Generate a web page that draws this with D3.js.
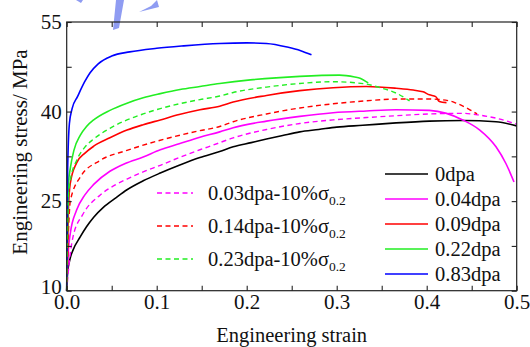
<!DOCTYPE html>
<html>
<head>
<meta charset="utf-8">
<script src="https://cdn.jsdelivr.net/npm/d3@7/dist/d3.min.js"></script>
<style>
  body { margin: 0; background: #fff; }
  text { font-family: "Liberation Serif", "Times New Roman", serif; fill: #111; }
</style>
</head>
<body>
<div id="chart"></div>
<script>
var width = 530;
var height = 347;

// strain / stress pairs
var s0dpa = [[0,10],[0.001,13],[0.004,15.5],[0.007,16.8],[0.015,19],[0.022,20.7],[0.03,22.3],[0.041,24],[0.055,25.6],[0.067,26.9],[0.085,28.4],[0.104,29.7],[0.125,31],[0.148,32.3],[0.17,33.3],[0.185,34.1],[0.205,34.8],[0.222,35.4],[0.24,36],[0.259,36.6],[0.28,37],[0.3,37.4],[0.329,37.7],[0.366,38.1],[0.403,38.4],[0.44,38.5],[0.477,38.3],[0.5,37.6]];
var s004dpa = [[0,10],[0.002,17],[0.004,19.6],[0.011,23.5],[0.02,26],[0.03,27.8],[0.048,30],[0.065,31.3],[0.085,32.4],[0.104,33.6],[0.125,34.6],[0.148,35.7],[0.17,36.6],[0.185,37.3],[0.222,38.4],[0.259,39.2],[0.296,39.8],[0.333,40.1],[0.366,40.3],[0.403,40.2],[0.422,39.7],[0.44,38.6],[0.459,36.9],[0.477,34.1],[0.488,31.3],[0.497,28.2]];
var s009dpa = [[0,10],[0.002,24],[0.004,28],[0.011,31.4],[0.02,33],[0.03,34.2],[0.048,35.6],[0.067,36.9],[0.085,37.8],[0.104,38.6],[0.125,39.5],[0.148,40.3],[0.17,40.9],[0.185,41.6],[0.222,42.7],[0.259,43.5],[0.296,44],[0.333,44.2],[0.366,43.9],[0.385,43.6],[0.396,43.3],[0.403,42.8],[0.41,42.5],[0.414,41.7],[0.422,41.5]];
var s022dpa = [[0,10],[0.002,28],[0.004,30.5],[0.008,33.5],[0.015,36],[0.022,37.5],[0.03,38.6],[0.048,40.2],[0.067,41.4],[0.085,42.3],[0.104,43],[0.126,43.7],[0.148,44.2],[0.17,44.7],[0.204,45.3],[0.259,45.9],[0.303,46.1],[0.32,45.8],[0.326,45.6],[0.335,44.8]];
var s083dpa = [[0,10],[0.001,30],[0.003,38],[0.006,40.5],[0.012,42.5],[0.02,45],[0.026,46.5],[0.035,48],[0.05,49.3],[0.07,50],[0.1,50.6],[0.13,51],[0.17,51.4],[0.2,51.5],[0.222,51.4],[0.245,50.8],[0.26,50.2],[0.272,49.5]];
var s003dpa10 = [[0,10],[0.003,15],[0.007,19],[0.018,22.8],[0.037,26],[0.055,27.8],[0.067,28.7],[0.085,29.9],[0.104,31],[0.125,32.3],[0.148,33.6],[0.163,34.4],[0.185,35.6],[0.222,37],[0.259,38],[0.296,38.6],[0.333,39],[0.366,39.3],[0.403,39.6],[0.44,39.7],[0.459,39.4],[0.477,38.9],[0.5,37.9]];
var s014dpa10 = [[0,10],[0.002,20],[0.004,25],[0.015,29],[0.037,31.8],[0.067,33.5],[0.104,35.2],[0.148,36.8],[0.17,37.5],[0.185,38.3],[0.222,39.6],[0.259,40.6],[0.296,41.3],[0.333,41.8],[0.366,42.1],[0.403,42.1],[0.425,41.8],[0.433,41.4],[0.448,40.3],[0.456,39.6]];
var s023dpa10 = [[0,10],[0.002,26],[0.004,28.5],[0.011,31.8],[0.02,34],[0.03,35.4],[0.048,37.2],[0.067,38.6],[0.085,39.6],[0.104,40.5],[0.125,41.3],[0.148,42],[0.17,42.6],[0.185,43.2],[0.222,44.1],[0.259,44.7],[0.296,45],[0.333,44.6],[0.348,44],[0.366,43.1],[0.381,41.8]];

var solidNames = ["0dpa", "0.04dpa", "0.09dpa", "0.22dpa", "0.83dpa"];
var solidData = [s0dpa, s004dpa, s009dpa, s022dpa, s083dpa];
var solidColors = ["#000000", "#ff00ff", "#ff0000", "#22ee22", "#0000ff"];

var dashNames = ["0.03dpa-10%\u03c3", "0.14dpa-10%\u03c3", "0.23dpa-10%\u03c3"];
var dashData = [s003dpa10, s014dpa10, s023dpa10];
var dashColors = ["#ff00ff", "#ff0000", "#22ee22"];

var xTicks = [0, 0.1, 0.2, 0.3, 0.4, 0.5];
var xMinor = [0.05, 0.15, 0.25, 0.35, 0.45];
var yTicks = [10, 25, 40, 55];
var yMinor = [17.5, 32.5, 47.5];

var plotLeft = 66.7, plotRight = 516.7, plotTop = 22, plotBottom = 290.7;

var svg = d3.select("#chart").append("svg")
        .attr("width", width)
        .attr("height", height);

svg.append("rect")
        .attr("width", width)
        .attr("height", height)
        .attr("fill", "#ffffff");

// faint blue smudge at the top of the scan
svg.append("path")
        .attr("d", "M113,30 L119,28 L124,0 L116,0 Z M139,12 L151,6 L157,0 L159,7 L147,10 Z M76,0 L83,0 L81,3 Z")
        .attr("fill", "#8f9cf2");

var x = d3.scaleLinear().domain([0, 0.5]).range([plotLeft, plotRight]);
var y = d3.scaleLinear().domain([10, 55]).range([plotBottom, plotTop]);

var line = d3.line()
        .x(function(d) { return x(d[0]); })
        .y(function(d) { return y(d[1]); })
        .curve(d3.curveMonotoneX);

var plot = svg.append("g");

for (var i = 0; i < solidData.length; i++) {
    plot.append("path")
            .attr("d", line(solidData[i]))
            .attr("fill", "none")
            .attr("stroke", solidColors[i])
            .attr("stroke-width", 1.6);
}
for (var i = 0; i < dashData.length; i++) {
    plot.append("path")
            .attr("d", line(dashData[i]))
            .attr("fill", "none")
            .attr("stroke", dashColors[i])
            .attr("stroke-width", 1.4)
            .attr("stroke-dasharray", "5,3.5");
}

// frame
svg.append("rect")
        .attr("x", plotLeft)
        .attr("y", plotTop)
        .attr("width", plotRight - plotLeft)
        .attr("height", plotBottom - plotTop)
        .attr("fill", "none")
        .attr("stroke", "#222")
        .attr("stroke-width", 1.2);

function inwardAxis(axis, g) {
    g.call(axis);
    g.select(".domain").remove();
    g.selectAll("line").attr("stroke", "#222").attr("stroke-width", 1.1);
}

var allX = xTicks.concat(xMinor);
var allY = yTicks.concat(yMinor);

var gx = svg.append("g").attr("transform", "translate(0," + plotBottom + ")");
inwardAxis(d3.axisBottom(x).tickValues(allX).tickSizeInner(-5).tickSizeOuter(0)
        .tickFormat(function(d) { return xTicks.indexOf(d) >= 0 ? d3.format(".1f")(d) : ""; }), gx);
gx.selectAll("text")
        .attr("y", 18)
        .attr("dy", 0)
        .style("font-size", "21px")
        .style("font-family", "Liberation Serif");

var gxTop = svg.append("g").attr("transform", "translate(0," + plotTop + ")");
inwardAxis(d3.axisTop(x).tickValues(allX).tickSizeInner(-5).tickSizeOuter(0).tickFormat(""), gxTop);

var gy = svg.append("g").attr("transform", "translate(" + plotLeft + ",0)");
inwardAxis(d3.axisLeft(y).tickValues(allY).tickSizeInner(-5).tickSizeOuter(0)
        .tickFormat(function(d) { return yTicks.indexOf(d) >= 0 ? d : ""; }), gy);
gy.selectAll("text")
        .attr("x", -5)
        .attr("y", function(d) { return d == 10 ? -4 : 0; })
        .style("font-size", "21px")
        .style("font-family", "Liberation Serif");

var gyRight = svg.append("g").attr("transform", "translate(" + plotRight + ",0)");
inwardAxis(d3.axisRight(y).tickValues(allY).tickSizeInner(-5).tickSizeOuter(0).tickFormat(""), gyRight);

// axis titles
svg.append("text")
        .attr("x", (plotLeft + plotRight) / 2)
        .attr("y", 342)
        .attr("text-anchor", "middle")
        .style("font-size", "20.5px")
        .text("Engineering strain");

svg.append("text")
        .attr("transform", "translate(27,152) rotate(-90)")
        .attr("text-anchor", "middle")
        .style("font-size", "21px")
        .text("Engineering stress/ MPa");

// legend for the solid curves
for (var i = 0; i < solidNames.length; i++) {
    var ly = 174 + i * 25;
    svg.append("line")
            .attr("x1", 385).attr("x2", 428)
            .attr("y1", ly).attr("y2", ly)
            .attr("stroke", solidColors[i])
            .attr("stroke-width", 1.6);
    svg.append("text")
            .attr("x", 435)
            .attr("y", ly)
            .attr("dy", "0.35em")
            .style("font-size", "20.5px")
            .text(solidNames[i]);
}

// legend for the dashed curves
for (var i = 0; i < dashNames.length; i++) {
    var ly = 193 + i * 33;
    svg.append("line")
            .attr("x1", 157).attr("x2", 193)
            .attr("y1", ly).attr("y2", ly)
            .attr("stroke", dashColors[i])
            .attr("stroke-width", 1.4)
            .attr("stroke-dasharray", "5,3.5");
    var t = svg.append("text")
            .attr("x", 208)
            .attr("y", ly)
            .attr("dy", "0.35em")
            .style("font-size", "20.5px");
    t.append("tspan").text(dashNames[i]);
    t.append("tspan")
            .attr("dy", 5)
            .style("font-size", "13.5px")
            .text("0.2");
}
</script>
</body>
</html>
